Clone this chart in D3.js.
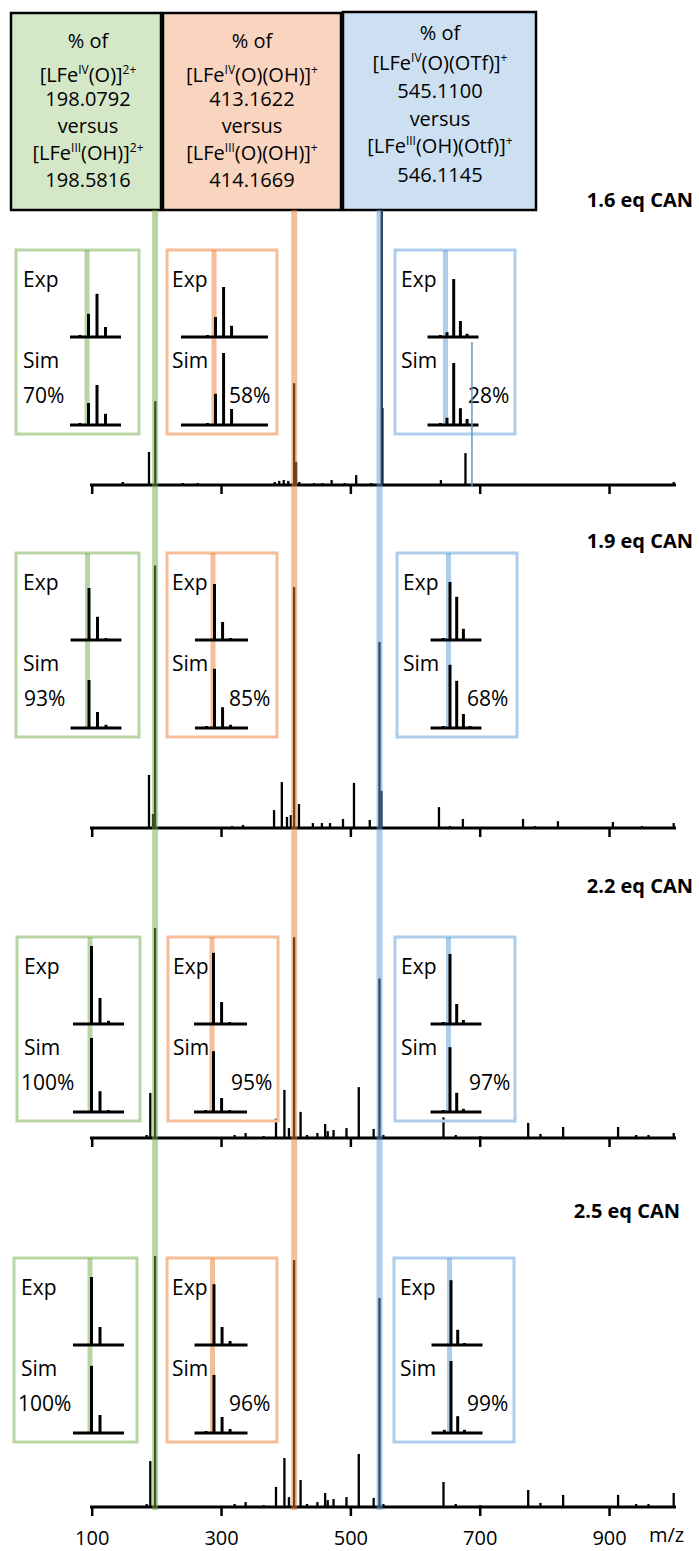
<!DOCTYPE html>
<html>
<head>
<meta charset="utf-8">
<script src="https://cdn.jsdelivr.net/npm/d3@7"></script>
<style>
  body { margin: 0; background: #fff; }
  text { font-family: "Open Sans", "Noto Sans", sans-serif; fill: #000; }
</style>
</head>
<body>
<div id="chart"></div>
<script>
// ---------------- data ----------------
var panelLabels = ["1.6 eq CAN", "1.9 eq CAN", "2.2 eq CAN", "2.5 eq CAN"];
var tickValues = [100, 300, 500, 700, 900];

// marked ions (green, orange, blue)
var bandMz = [198.0792, 413.1622, 545.1100];

// isotope positions shown in the small insets
var isoMz = [
    [197.58, 198.08, 198.58, 199.08, 199.58],
    [412.16, 413.16, 414.17, 415.17, 416.17],
    [544.11, 545.11, 546.11, 547.11, 548.11]
];

var matchPct = [
    ["70%", "58%", "28%"],
    ["93%", "85%", "68%"],
    ["100%", "95%", "97%"],
    ["100%", "96%", "99%"]
];

// header text, one array per box; [text, isSuperscript]
var headerGreen = [
    [["% of"]],
    [["[LFe"], ["IV", 1], ["(O)]"], ["2+", 1]],
    [["198.0792"]],
    [["versus"]],
    [["[LFe"], ["III", 1], ["(OH)]"], ["2+", 1]],
    [["198.5816"]]
];
var headerOrange = [
    [["% of"]],
    [["[LFe"], ["IV", 1], ["(O)(OH)]"], ["+", 1]],
    [["413.1622"]],
    [["versus"]],
    [["[LFe"], ["III", 1], ["(O)(OH)]"], ["+", 1]],
    [["414.1669"]]
];
var headerBlue = [
    [["% of"]],
    [["[LFe"], ["IV", 1], ["(O)(OTf)]"], ["+", 1]],
    [["545.1100"]],
    [["versus"]],
    [["[LFe"], ["III", 1], ["(OH)(Otf)]"], ["+", 1]],
    [["546.1145"]]
];

// full spectra: [m/z, relative intensity]
var spec16 = [[148,1.1],[188.6,12],[198.3,30.5],[241,0.7],[264,0.7],[383,1.1],[390,1.5],[397,1.8],
    [404,1.5],[413,37],[416,8.4],[421,1.1],[444,0.7],[457,0.7],[471,1.8],[491,0.7],[509,3.6],
    [532,0.7],[548.5,100],[549.5,28],[640,1.8],[678,11.6],[772,0.4],[911,0.4],[1000,1.1]];
var spec19 = [[188.6,19.3],[194.8,5.1],[198,95.5],[236.5,0.4],[317,0.7],[334,1.1],[363,0.4],
    [382,6.5],[394,16.7],[402,4],[408,4.7],[413,87.6],[420.5,8.7],[442,1.8],[456,1.8],[468.5,1.8],
    [488.6,3.3],[505.6,16.4],[530,2.9],[545,67.6],[548,13.5],[637,7.6],[654,0.7],[674,3.3],
    [767,3.3],[785.5,0.7],[821,2.5],[866,0.4],[906,2.2],[951,0.7],[1000,1.8]];
var spec22 = [[185,1.1],[190.6,16.4],[198,76.4],[244,0.4],[302,0.4],[321,1.1],[338,1.8],[352,0.4],
    [366,0.7],[385,7],[398,17.5],[405,3.6],[413,73],[423,9.5],[433,1.1],[449,1.8],[461,5.1],
    [465,2.5],[474,2.9],[494,3.6],[513,18.5],[536,3.3],[545,58],[551,1.1],[627,0.4],[644,7.5],
    [663,1.1],[701,0.7],[743,0.4],[775,5.5],[794,1.5],[829,4],[874,0.4],[914,4],[942,1.1],
    [961,1.1],[1000,1.8]];
var spec25 = [[185,1.1],[190.6,16.7],[198,91.3],[244,0.4],[302,0.4],[321,1.1],[338,1.8],[352,0.4],
    [366,0.7],[385,7.3],[398,17.8],[405,3.6],[413,89.8],[423,9.8],[433,1.1],[449,1.8],[461,5.1],
    [465,2.5],[474,2.9],[494,3.6],[513,19.3],[536,3.3],[545,76],[551,1.1],[627,0.4],[644,9.1],
    [663,1.1],[701,0.7],[743,0.4],[775,6.2],[794,1.5],[829,4.4],[874,0.4],[914,4.4],[942,1.1],
    [961,1.1],[1000,5.1]];
var spectra = [spec16, spec19, spec22, spec25];

// inset isotope patterns (relative intensity, matching isoMz), [green, orange, blue]
var expIso = [
    [[2.5,29,54,12.5,0], [2.5,25,62.5,14,1], [2.5,6,72.5,20,4]],
    [[1,65,29,2.5,0], [1,70,22.5,2.5,0], [2.5,72.5,54,14,1]],
    [[0,97.5,32.5,4,0], [1,89,27.5,2.5,0], [2.5,87.5,25,5,0]],
    [[0,85,22.5,1,0], [1,76,22.5,5,0], [1,81,19,2.5,0]]
];
var simIso = [
    [[2.5,27.5,50,14,0], [2.5,39,90,20,1], [2.5,9,77.5,21,7.5]],
    [[0,60,20,4,0], [2.5,74,26,4,0], [2.5,79,59,17.5,2.5]],
    [[0,92.5,26,2.5,0], [2.5,76,17.5,2.5,0], [2.5,81,24,4,0]],
    [[0,84,22.5,1,0], [2.5,72.5,20,5,0], [4,90,21,4,0]]
];

// ---------------- layout ----------------
var svgWidth = 699;
var svgHeight = 1551;

var axisY = [485, 828, 1138, 1507];
var labelY = [207, 548, 893, 1218];
var labelX = [693, 693, 693, 680];
var boxTop = [250, 553, 937, 1258];
var boxH = 184;

var bandColor = ["#70ad47", "#ed7d31", "#5b9bd5"];
var boxStroke = ["#b8d6a3", "#f6be98", "#adcdea"];
var boxW = [123, 110, 120];
var insetLeft = [[16, 16, 17, 14], [167, 167, 168, 167], [395, 397, 395, 394]];
var bandOff = [[71, 71.5, 73, 76], [47, 46, 44, 45.5], [50.5, 51.5, 53.5, 55.5]];
var pxPerMz = [17, 8, 6.7];
var baseL = [17, 18, 18];
var baseR = [34, 35, 33];
var labelOff = [7, 5, 6];
var pctOff = [[7, 8, 4, 4], [62, 62, 63, 62], [73, 70, 74, 73]];

var svg = d3.select("#chart")
    .append("svg")
    .attr("width", svgWidth)
    .attr("height", svgHeight);

var x = d3.scaleLinear().domain([100, 1000]).range([91.7, 673.7]);
var insetY = d3.scaleLinear().domain([0, 100]).range([0, 80]);

// header boxes
var headerBoxes = [
    {x: 11, y: 13, w: 150, cx: 88, fill: "#d4e7c7", lines: headerGreen, ys: [48, 82, 106, 133, 160, 187]},
    {x: 163, y: 13, w: 178, cx: 252, fill: "#f9d5bf", lines: headerOrange, ys: [48, 82, 106, 133, 160, 187]},
    {x: 343, y: 12, w: 193, cx: 440, fill: "#cde0f2", lines: headerBlue, ys: [40, 70, 98, 126, 153, 182]}
];

headerBoxes.forEach(function (b) {
    svg.append("rect")
        .attr("x", b.x).attr("y", b.y)
        .attr("width", b.w).attr("height", 210 - b.y)
        .attr("fill", b.fill)
        .attr("stroke", "#000")
        .attr("stroke-width", 2.5);

    b.lines.forEach(function (parts, li) {
        var t = svg.append("text")
            .attr("x", b.cx).attr("y", b.ys[li])
            .attr("text-anchor", "middle")
            .style("font-size", "20px");
        var raised = false;
        parts.forEach(function (p) {
            var ts = t.append("tspan").text(p[0]);
            if (p[1]) {
                ts.attr("dy", raised ? 0 : -8).style("font-size", "12px");
                raised = true;
            } else if (raised) {
                ts.attr("dy", 8);
                raised = false;
            }
        });
    });
});

// panels
spectra.forEach(function (spec, i) {
    var y = d3.scaleLinear().domain([0, 100]).range([axisY[i], axisY[i] - 275]);
    var g = svg.append("g");

    // peaks
    g.selectAll("line.peak")
        .data(spec)
        .enter()
        .append("line")
        .attr("x1", d => x(d[0])).attr("x2", d => x(d[0]))
        .attr("y1", axisY[i]).attr("y2", d => y(d[1]))
        .attr("stroke", "#000")
        .attr("stroke-width", 2.3);

    // axis
    var axis = d3.axisBottom(x)
        .tickValues(tickValues)
        .tickSize(9)
        .tickSizeOuter(0)
        .tickPadding(15)
        .tickFormat(i === 3 ? d3.format("d") : "");
    var ax = g.append("g")
        .attr("transform", `translate(0, ${axisY[i]})`)
        .call(axis);
    ax.select(".domain").attr("stroke-width", 2.8).attr("d", "M90,0H676");
    ax.selectAll(".tick line").attr("stroke-width", 2.5);
    ax.selectAll(".tick text")
        .attr("font-family", "Open Sans, sans-serif")
        .attr("font-size", 20)
        .attr("fill", "#000");

    // panel label
    g.append("text")
        .attr("x", labelX[i]).attr("y", labelY[i])
        .attr("text-anchor", "end")
        .style("font-size", "20px")
        .style("font-weight", "bold")
        .text(panelLabels[i]);

    // insets
    bandMz.forEach(function (mz, s) {
        var left = insetLeft[s][i];
        var top = boxTop[i];
        var bx = left + bandOff[s][i];
        var ig = g.append("g");

        ig.append("rect")
            .attr("x", left).attr("y", top)
            .attr("width", boxW[s]).attr("height", boxH)
            .attr("fill", "none")
            .attr("stroke", boxStroke[s])
            .attr("stroke-width", 3);

        ig.append("rect")
            .attr("x", bx - 2.5).attr("y", top)
            .attr("width", 5).attr("height", 175)
            .attr("fill", bandColor[s])
            .attr("opacity", 0.5);

        [[expIso[i][s], top + 87], [simIso[i][s], top + 175]].forEach(function (pair) {
            var vals = pair[0], base = pair[1];
            var px = m => bx + 1.5 + (m - isoMz[s][1]) * pxPerMz[s];
            ig.selectAll(null)
                .data(vals.map((v, k) => [isoMz[s][k], v]).filter(d => d[1] > 0))
                .enter()
                .append("line")
                .attr("x1", d => px(d[0])).attr("x2", d => px(d[0]))
                .attr("y1", base).attr("y2", d => base - insetY(d[1]))
                .attr("stroke", "#000")
                .attr("stroke-width", 3);
            ig.append("line")
                .attr("x1", bx - baseL[s] - (i === 0 && s === 1 ? 15 : 0))
                .attr("x2", bx + baseR[s] + (i === 0 && s === 1 ? 19 : 0))
                .attr("y1", base).attr("y2", base)
                .attr("stroke", "#000")
                .attr("stroke-width", 3);
        });

        ig.append("text")
            .attr("x", left + labelOff[s]).attr("y", top + 37)
            .style("font-size", "21px")
            .text("Exp");
        ig.append("text")
            .attr("x", left + labelOff[s]).attr("y", top + 118)
            .style("font-size", "21px")
            .text("Sim");
        ig.append("text")
            .attr("x", left + pctOff[s][i]).attr("y", top + 153)
            .style("font-size", "21px")
            .text(matchPct[i][s]);
    });
});

// pointer line in the first panel
svg.append("line")
    .attr("x1", x(688)).attr("x2", x(688))
    .attr("y1", 342).attr("y2", axisY[0] + 1)
    .attr("stroke", "#5b9bd5")
    .attr("stroke-width", 1.5);

// marker bands through all panels
svg.selectAll("rect.band")
    .data(bandMz)
    .enter()
    .append("rect")
    .attr("x", d => x(d) - 3)
    .attr("y", 210)
    .attr("width", 6)
    .attr("height", axisY[3] + 3 - 210)
    .attr("fill", (d, k) => bandColor[k])
    .attr("opacity", 0.5);

// axis unit
svg.append("text")
    .attr("x", 649).attr("y", 1542)
    .style("font-size", "20px")
    .text("m/z");
</script>
</body>
</html>
